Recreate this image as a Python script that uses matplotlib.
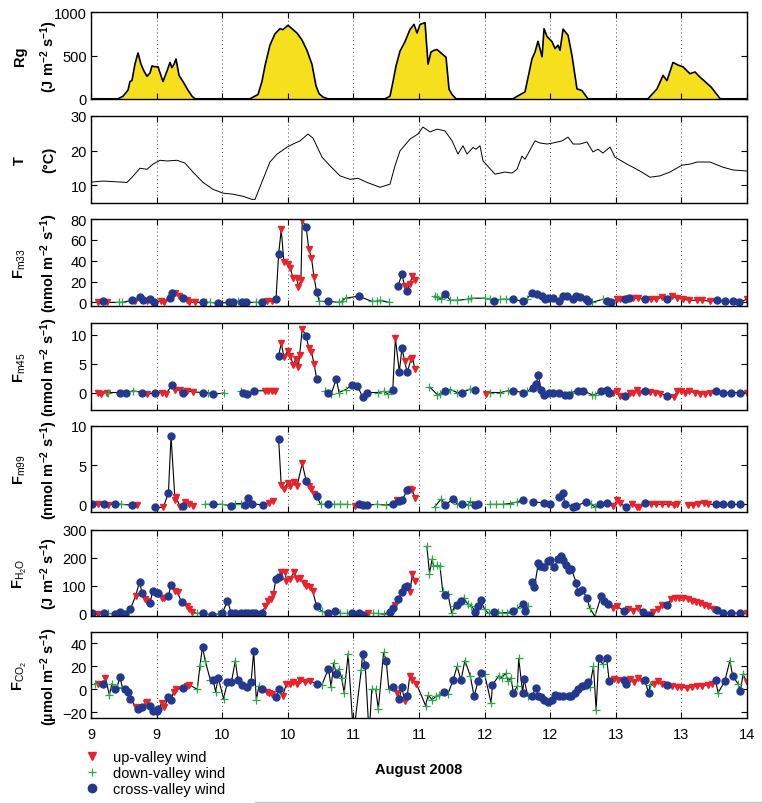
import numpy as np
import matplotlib
matplotlib.use('Agg')
import matplotlib.pyplot as plt
from matplotlib.lines import Line2D

plt.rcParams['font.family'] = ['Liberation Sans', 'DejaVu Sans']
plt.rcParams['mathtext.fontset'] = 'custom'
plt.rcParams['mathtext.rm'] = 'Liberation Sans'
plt.rcParams['mathtext.it'] = 'Liberation Sans:italic'
plt.rcParams['mathtext.bf'] = 'Liberation Sans:bold'

NA = np.nan

# ---------------- x axis (days of August 2008) ----------------
xticks = [9.0, 9.5, 10.0, 10.5, 11.0, 11.5, 12.0, 12.5, 13.0, 13.5, 14.0]
xtick_labels = ['9', '9', '10', '10', '11', '11', '12', '12', '13', '13', '14']

# ---------------- Rg ----------------
rg_t = [9.0,
        9.206, 9.244, 9.282, 9.297, 9.312, 9.335, 9.358, 9.381, 9.404, 9.427, 9.450, 9.465, 9.488,
        9.511, 9.526, 9.549, 9.579, 9.602, 9.617, 9.633, 9.648, 9.671, 9.701, 9.739, 9.770, 9.793,
        10.212, 10.273, 10.303, 10.326, 10.364, 10.402, 10.44, 10.463, 10.486, 10.502, 10.532, 10.570,
        10.608, 10.646, 10.684, 10.715, 10.738, 10.768, 10.806,
        11.241, 11.279, 11.302, 11.325, 11.355, 11.393, 11.431, 11.462, 11.485, 11.508, 11.546, 11.569,
        11.591, 11.614, 11.637, 11.675, 11.706, 11.729, 11.752, 11.782,
        12.216, 12.308, 12.361, 12.384, 12.407, 12.438, 12.453, 12.476, 12.514, 12.537, 12.56, 12.575,
        12.598, 12.636, 12.666, 12.704, 12.742, 12.788,
        13.245, 13.314, 13.36, 13.39, 13.436, 13.474, 13.512, 13.565, 13.604, 13.642, 13.727, 13.796, 14.0]
rg_v = [0,
        0, 30, 100, 200, 210, 400, 530, 400, 320, 260, 300, 380, 370,
        370, 300, 200, 320, 420, 360, 400, 460, 270, 200, 100, 30, 0,
        0, 50, 200, 380, 620, 750, 810, 800, 830, 850, 810, 760,
        680, 560, 400, 150, 60, 20, 0,
        0, 30, 200, 380, 550, 660, 800, 860, 760, 860, 880, 400,
        540, 560, 570, 520, 480, 110, 50, 0,
        0, 80, 460, 540, 665, 485, 810, 720, 660, 580, 620, 560,
        805, 735, 500, 115, 95, 0,
        0, 115, 270, 210, 420, 390, 370, 290, 310, 250, 135, 0, 0]

# ---------------- T ----------------
temp_t = [9.0, 9.091, 9.274, 9.313, 9.373, 9.427, 9.473, 9.526, 9.579, 9.655,
          9.716, 9.777, 9.854, 9.930, 10.006, 10.082, 10.159, 10.227, 10.250, 10.311,
          10.364, 10.418, 10.494, 10.540, 10.593, 10.654, 10.692, 10.761, 10.822, 10.898,
          10.974, 11.035, 11.104, 11.203, 11.279, 11.317, 11.355, 11.431, 11.492, 11.530,
          11.584, 11.637, 11.698, 11.752, 11.797, 11.835, 11.866, 11.912, 11.934, 11.965,
          11.988, 12.079, 12.155, 12.209, 12.247, 12.285, 12.308, 12.384, 12.422, 12.476,
          12.521, 12.590, 12.636, 12.674, 12.727, 12.780, 12.826, 12.864, 12.902, 12.956,
          12.994, 13.085, 13.184, 13.261, 13.337, 13.413, 13.505, 13.566, 13.619, 13.718,
          13.817, 13.893, 14.0]
temp_v = [10.9, 11.2, 10.8, 12.3, 14.9, 14.6, 16.1, 17.2, 17.0, 17.2,
          16.4, 13.8, 10.8, 8.8, 7.7, 7.4, 6.8, 5.9, 5.9, 11.7,
          16.7, 19.0, 21.0, 21.9, 22.8, 24.8, 23.6, 18.1, 15.6, 12.7,
          11.7, 12.0, 10.8, 9.4, 10.3, 15.6, 19.9, 23.3, 24.8, 26.8,
          25.4, 26.2, 25.7, 22.8, 19.0, 21.4, 19.0, 20.9, 20.4, 21.4,
          17.0, 13.2, 13.8, 13.5, 14.6, 18.4, 17.5, 22.8, 22.2, 21.9,
          22.2, 22.8, 23.9, 21.9, 21.9, 22.5, 19.6, 20.4, 19.3, 21.0,
          18.1, 16.1, 14.1, 12.3, 12.7, 13.8, 15.8, 16.1, 16.7, 16.7,
          15.2, 14.4, 14.1]

# wind codes: u = up-valley, d = down-valley, c = cross-valley, - = gap
# ---------------- F m33 ----------------
fm33_t = [9.05, 9.09, 9.12, 9.21, 9.24, 9.31, 9.335, 9.37, 9.40, 9.43,
          9.45, 9.48, 9.53, 9.56, 9.60, 9.62, 9.64, 9.67, 9.70, 9.73,
          9.75, 9.79, 9.85, 9.88, 9.91, 9.97, 10.05, 10.08, 10.12, 10.15,
          10.18, 10.26, 10.30, 10.34, 10.38, 10.41, 10.43, 10.45, 10.47, 10.50,
          10.52, 10.54, 10.57, 10.58, 10.60, 10.61, 10.64, 10.66, 10.68, 10.70,
          10.72, 10.74, 10.81, 10.89, 10.91, 10.94, 11.04, 11.14, 11.18, 11.20,
          11.27, 11.30, 11.34, 11.37, 11.39, 11.41, 11.43, 11.45, 11.47, 11.55,
          11.62, 11.64, 11.67, 11.70, 11.74, 11.79, 11.87, 11.90, 12.00, 12.04,
          12.07, 12.12, 12.16, 12.22, 12.29, 12.32, 12.36, 12.40, 12.44, 12.46,
          12.48, 12.52, 12.57, 12.60, 12.63, 12.67, 12.70, 12.73, 12.77, 12.79,
          12.82, 12.90, 12.93, 12.96, 13.01, 13.03, 13.07, 13.10, 13.13, 13.17,
          13.22, 13.27, 13.31, 13.35, 13.39, 13.43, 13.47, 13.51, 13.56, 13.62,
          13.66, 13.72, 13.77, 13.83, 13.89, 13.94, 14.00]
fm33_v = [0, 1, 0, 0, 0, 2, 1, 5, 2, 1,
          3, 0, 1, 0, 4, 9, 9, 6, 4, 2,
          0, 0, 0, 0, 0, -1, 0, 0, 1, 0,
          0, 0, 0, 1, 1, 3, 46, 70, 39, 37,
          33, 23, 23, 15, 21, 79, 72, 51, 43, 24,
          10, 1, 1, 0, 1, 4, 6, 1, 1, 2,
          0, NA, 16, 27, 16, 11, 18, 25, 21, NA,
          6, 5, 3, 8, 2, 2, 3, 4, 4, 3,
          1, 3, 3, 3, 1, 3, 9, 8, 6, 3,
          4, 4, 1, 6, 6, 3, 6, 5, 3, 1,
          0, 3, 1, 0, 3, 3, 3, 4, 4, 4,
          3, 3, 3, 5, 3, 6, 4, 3, 2, 2,
          2, 1, 2, 1, 1, 0, 3]
fm33_w = ("ucuddcuccu ccuuccuucu uucddcccdc cdcuuccuuu uuuuuucuuu cdcdddcddd "
          "d-ccucuuu- dddcdddddd cddccdcccc cccccccccc ddccuuccuu cuuucuuuuu uuccccu")

# ---------------- F m45 ----------------
fm45_t = [9.05, 9.08, 9.12, 9.13, 9.22, 9.27, 9.32, 9.39, 9.43, 9.49,
          9.54, 9.57, 9.62, 9.64, 9.68, 9.70, 9.73, 9.78, 9.85, 9.89,
          9.93, 10.01, 10.08, 10.14, 10.16, 10.19, 10.24, 10.33, 10.35, 10.38,
          10.40, 10.415, 10.43, 10.45, 10.47, 10.50, 10.52, 10.54, 10.56, 10.58,
          10.59, 10.61, 10.64, 10.66, 10.68, 10.70, 10.72, 10.75, 10.78, 10.81,
          10.83, 10.87, 10.89, 10.94, 10.99, 11.03, 11.07, 11.10, 11.19, 11.23,
          11.26, 11.30, 11.32, 11.35, 11.37, 11.39, 11.41, 11.44, 11.45, 11.47,
          11.52, 11.58, 11.64, 11.66, 11.70, 11.74, 11.79, 11.83, 11.89, 11.93,
          11.97, 12.01, 12.04, 12.12, 12.18, 12.22, 12.29, 12.32, 12.37, 12.39,
          12.41, 12.43, 12.45, 12.49, 12.52, 12.57, 12.61, 12.64, 12.66, 12.71,
          12.75, 12.82, 12.84, 12.89, 12.93, 12.95, 12.98, 13.01, 13.03, 13.07,
          13.11, 13.13, 13.16, 13.18, 13.22, 13.26, 13.30, 13.34, 13.39, 13.44,
          13.47, 13.50, 13.53, 13.56, 13.60, 13.64, 13.68, 13.72, 13.76, 13.82,
          13.88, 13.95, 14.00]
fm45_v = [0, -0.2, 0, 0, 0, 0, 0.3, 0, -0.3, 0,
          0, -0.2, 1.3, 0.4, 0.4, 0, 0.3, 0.1, 0, 0,
          -0.3, -0.1, NA, 0.2, 0, -0.3, 0.3, 0.3, 0.3, 0.3,
          0.3, NA, 6.3, 8.6, 6.2, 7.2, 6.4, 4.8, 5.8, 4.5,
          6.5, 11.0, 9.8, 7.7, 7.0, 5.0, 2.4, NA, 0.2, 0,
          -0.3, 2.4, 0, 0.5, 1.3, 1.2, -0.8, 0, 0, 0.2,
          -0.2, 0.5, 9.4, 3.6, 7.7, 5.5, 3.5, 5.8, 6.0, 4.0,
          NA, 1.0, -0.4, -0.2, 0.2, 0.5, 0, 0, 0.6, 0.4,
          NA, -0.3, 0, 0, 0.3, 0.3, 0, 0.2, 0.8, 1.4,
          3.0, 0.5, -0.4, 0, 0, 0, -0.4, -0.4, 0, 0.3,
          0.3, -0.4, -0.4, 0.3, 0.5, 0, 0, 0.2, -0.6, -0.6,
          0, 0, 0.4, 0, 0.3, 0.1, 0, -0.2, -0.6, -0.8,
          0.2, 0.2, 0, 0.2, 0, -0.2, -0.2, 0, 0.2, 0,
          0, 0, 0]
fm45_w = ("uuudccdcuc uucuucuucd cd-dcccuuu u-cuuuuuuu uucuuuc-dc dcddccccdd "
          "dcuccucuuu -dddcddcdc -udddccdcc ccccccccdc cddcccuuuc uuuucuuucu "
          "uuuuuuuucc ccu")

# ---------------- F m99 ----------------
fm99_t = [9.01, 9.05, 9.10, 9.13, 9.18, 9.23, 9.31, 9.35, 9.42, 9.49,
          9.55, 9.59, 9.61, 9.64, 9.65, 9.68, 9.70, 9.72, 9.75, 9.78,
          9.82, 9.87, 9.93, 10.00, 10.07, 10.10, 10.14, 10.17, 10.20, 10.23,
          10.31, 10.36, 10.39, 10.41, 10.43, 10.45, 10.47, 10.50, 10.52, 10.55,
          10.57, 10.61, 10.64, 10.66, 10.68, 10.70, 10.72, 10.75, 10.81, 10.85,
          10.90, 10.95, 10.98, 11.01, 11.04, 11.07, 11.10, 11.18, 11.25, 11.30,
          11.33, 11.35, 11.37, 11.41, 11.43, 11.45, 11.47, 11.55, 11.62, 11.67,
          11.70, 11.76, 11.79, 11.83, 11.87, 11.89, 11.93, 11.95, 12.00, 12.04,
          12.09, 12.14, 12.19, 12.25, 12.29, 12.33, 12.37, 12.45, 12.50, 12.53,
          12.57, 12.60, 12.61, 12.67, 12.70, 12.77, 12.81, 12.84, 12.88, 12.93,
          12.98, 13.01, 13.03, 13.08, 13.12, 13.16, 13.18, 13.22, 13.27, 13.31,
          13.35, 13.40, 13.44, 13.47, 13.51, 13.55, 13.59, 13.63, 13.67, 13.70,
          13.76, 13.82, 13.88, 13.95]
fm99_v = [0.1, 0, 0, -0.1, 0.1, 0, -0.1, -0.1, NA, -0.4,
          -0.4, 1.4, 8.7, 0.6, 0.9, -0.4, -0.2, 0.3, 0, -0.2,
          NA, 0, 0, 0, -0.2, 0.1, 0.1, -0.1, 0.8, 0.1,
          -0.1, 0.2, 0.4, NA, 8.3, 2.4, 2.0, 2.7, 2.3, 2.9,
          2.3, 5.2, 3.0, 2.3, 2.0, 1.3, 1.0, 0, 0, 0,
          0, 0, NA, -0.2, 0.1, -0.1, -0.1, 0, -0.1, 0.1,
          0.6, 0.4, 0.5, 1.8, 1.9, 1.8, 0.8, NA, -0.3, 0.7,
          -0.1, 0.7, 0, 0.1, -0.1, 0.4, -0.1, 0, NA, 0,
          0, 0, 0.1, 0.3, 0.6, NA, 0.3, 0.2, 0, NA,
          0.9, 1.4, 0.1, -0.3, -0.2, 0.3, 0, -0.3, 0, 0.2,
          -0.2, 0.5, 0.2, -0.4, 0, -0.3, -0.4, 0.2, 0, 0,
          0, 0, -0.1, 0, NA, -0.1, -0.1, 0.1, 0.2, 0,
          0, 0, 0, 0]
fm99_w = ("cucucdcu-c uccuuucuuu -dcdcddccc cuu-cuuuuu uucuuucdcd dd-ucccddc "
          "ucccuuu-dd ccdcddcc-d ddddc-ccc- ccccccddcc uuucuuucuu uuuu-uuuuu cccc")

# ---------------- F H2O ----------------
fh2o_t = [9.01, 9.05, 9.10, 9.13, 9.18, 9.22, 9.26, 9.30, 9.34, 9.37,
          9.39, 9.41, 9.43, 9.45, 9.47, 9.50, 9.51, 9.54, 9.56, 9.59,
          9.61, 9.64, 9.66, 9.69, 9.73, 9.75, 9.77, 9.81, 9.85, 9.88,
          9.92, 9.97, 10.00, 10.04, 10.07, 10.10, 10.14, 10.17, 10.20, 10.23,
          10.25, 10.30, 10.33, 10.35, 10.37, 10.39, 10.41, 10.43, 10.45, 10.48,
          10.49, 10.52, 10.55, 10.57, 10.59, 10.62, 10.64, 10.67, 10.69, 10.72,
          10.76, 10.81, 10.85, 10.86, 10.90, 10.95, 10.99, 11.04, 11.07, 11.11,
          11.15, 11.19, 11.23, 11.28, 11.30, 11.32, 11.34, 11.37, 11.39, 11.41,
          11.43, 11.45, 11.47, 11.52, 11.56, 11.58, 11.60, 11.61, 11.64, 11.66,
          11.68, 11.70, 11.72, 11.75, 11.77, 11.79, 11.82, 11.84, 11.87, 11.90,
          11.93, 11.95, 11.97, 12.00, 12.03, 12.07, 12.10, 12.13, 12.17, 12.22,
          12.25, 12.29, 12.31, 12.33, 12.345, 12.36, 12.38, 12.41, 12.42, 12.45,
          12.48, 12.50, 12.53, 12.56, 12.58, 12.60, 12.62, 12.64, 12.66, 12.70,
          12.71, 12.74, 12.78, 12.80, 12.84, 12.89, 12.91, 12.94, 12.98, 13.01,
          13.06, 13.09, 13.13, 13.17, 13.21, 13.25, 13.28, 13.32, 13.35, 13.39,
          13.42, 13.45, 13.48, 13.51, 13.55, 13.58, 13.61, 13.64, 13.67, 13.70,
          13.74, 13.77, 13.82, 13.88, 13.95, 14.00]
fh2o_v = [0, -3, 2, 0, -2, 6, -2, 15, 63, 113,
          72, 50, 45, 37, 80, 73, 72, 57, 55, 63,
          102, 80, 75, 40, 25, 15, 5, 0, 2, -2,
          -5, -2, 0, 45, 0, 0, 0, 0, 0, 0,
          0, 0, 27, 45, 53, 70, 124, 130, 148, 148,
          115, 125, 150, 125, 127, 110, 97, 95, 80, 25,
          8, 0, 3, 10, 0, 0, 0, 0, -5, 0,
          0, 0, -2, 5, 18, 30, 50, 75, 95, 100,
          78, 140, 115, NA, 240, 143, 195, 170, 172, 170,
          82, 66, 70, 0, 25, 30, 45, 55, 35, 28,
          5, 25, 48, 15, 0, 5, 5, 3, 3, 8,
          18, 33, 10, 25, NA, 112, 94, 182, 170, 165,
          189, 190, 165, 195, 204, 190, 175, 157, 160, 109,
          76, 85, 57, 20, -10, 63, 45, 35, 20, 25,
          10, 15, 10, 20, 5, -5, 5, 15, 30, 30,
          50, 55, 55, 55, 52, 45, 40, 38, 30, 25,
          15, 14, 2, 2, 0, 0]
fh2o_w = ("cucdccccuc cuuccccuuc cuucuuudcd cdcccccccc ccuuuuccuu uuuuuuuuuc "
          "dcdcddcccu dddccucccc uuu-dddddd dcdddccddd cccddcdddc dccd-ccccc "
          "cccccccccc cccddcccuu cuuuccuuuc uuuuuuuuuu uccccu")

# ---------------- F CO2 ----------------
fco2_t = [9.03, 9.05, 9.09, 9.11, 9.14, 9.16, 9.18, 9.20, 9.22, 9.24,
          9.26, 9.28, 9.30, 9.34, 9.36, 9.39, 9.42, 9.43, 9.45, 9.47,
          9.50, 9.51, 9.54, 9.56, 9.59, 9.61, 9.63, 9.65, 9.70, 9.73,
          9.75, 9.81, 9.83, 9.85, 9.87, 9.91, 9.93, 9.95, 9.97, 10.01,
          10.04, 10.07, 10.10, 10.12, 10.15, 10.19, 10.22, 10.24, 10.26, 10.28,
          10.30, 10.34, 10.36, 10.38, 10.41, 10.43, 10.46, 10.49, 10.52, 10.54,
          10.57, 10.59, 10.63, 10.67, 10.72, 10.76, 10.81, 10.83, 10.85, 10.87,
          10.89, 10.91, 10.93, 10.96, 11.00, 11.06, 11.07, 11.09, 11.12, 11.14,
          11.17, 11.19, 11.23, 11.25, 11.27, 11.30, 11.33, 11.35, 11.37, 11.39,
          11.41, 11.43, 11.45, 11.48, 11.55, 11.57, 11.60, 11.63, 11.65, 11.69,
          11.72, 11.76, 11.79, 11.82, 11.85, 11.89, 11.92, 11.95, 11.97, 12.00,
          12.05, 12.06, 12.11, 12.13, 12.16, 12.18, 12.20, 12.22, 12.25, 12.26,
          12.29, 12.30, 12.33, 12.36, 12.39, 12.41, 12.43, 12.45, 12.48, 12.51,
          12.54, 12.57, 12.60, 12.64, 12.66, 12.69, 12.71, 12.74, 12.77, 12.79,
          12.80, 12.83, 12.85, 12.87, 12.90, 12.93, 12.95, 12.99, 13.02, 13.06,
          13.08, 13.11, 13.14, 13.17, 13.20, 13.22, 13.25, 13.26, 13.29, 13.32,
          13.35, 13.39, 13.43, 13.47, 13.50, 13.54, 13.58, 13.62, 13.66, 13.70,
          13.73, 13.76, 13.78, 13.83, 13.87, 13.89, 13.93, 13.95, 13.97, 14.00]
fco2_v = [5, 5, 5, 10, -5, 5, 0, 2, 11, 1,
          0, -2, -8, -15, -17, -15, -12, -11, -14, -19,
          -19, -17, -12, -15, -7, -9, -2, 0, 1, 3,
          4, 0, 20, 37, 25, 8, 8, -2, 10, -8,
          6, 6, 25, 8, 4, 2, 6, 33, -9, 3,
          0, -2, -3, -4, -7, 0, -6, 5, 5, 6,
          5, 8, 6, 7, 5, 4, 18, 2, 23, 13,
          18, 10, -3, 31, -40, 17, 31, 21, -40, 0,
          0, -17, 32, 25, 0, 2, -3, -8, 2, -10,
          -6, 12, 8, 5, -14, -5, -9, -6, -5, -2,
          -4, 8, 20, 8, 25, 12, -6, 7, 14, 13,
          -12, 4, 12, 10, 14, 7, 10, -3, 3, 27,
          -3, 9, -6, -6, 1, -6, -7, -9, -11, -9,
          -5, -6, -6, -6, -6, -3, 0, 3, 4, 6,
          2, 20, -18, 27, 22, 27, 7, 9, 8, 8,
          5, 9, 6, 10, 7, 8, -3, 4, 5, 7,
          5, 4, 3, 2, 2, 1, 2, 3, 3, 4,
          5, 8, -3, 7, 25, 12, 5, -1, 13, 6]
fco2_w = ("ducuddcdcd cccuccuucc ccuuccuucu uddcddcdcd ccdcccccdd cuuuccuuuu "
          "uuuucdcddc ddddddccdd dddcdcuccu cuuudddddc dcdcddcccd dcdddddcdd "
          "ccdccccccc cccccccccc dddcdccuuc cuuuuccduu ucuuuuuuuu ucdcdcdcdu")

legend_labels = ['up-valley wind', 'down-valley wind', 'cross-valley wind']

# ---------------- styling ----------------
RED = '#E8232B'
GREEN = '#2BA84A'
BLUE = '#22398F'
YELLOW = '#F6E01E'

W, H = 762, 804
fig = plt.figure(figsize=(W / 100, H / 100), dpi=100)
left_px, right_px = 91, 747
tops = [13.3, 117, 220, 324.3, 426.7, 530.7, 632.7]
hpx = 86.5
axes = [fig.add_axes([left_px / W, 1 - (tp + hpx) / H, (right_px - left_px) / W, hpx / H])
        for tp in tops]

FS = 10.5


def style(ax, ylim, yticks, name, unit, bottom=False):
    ax.set_xlim(9, 14)
    ax.set_ylim(*ylim)
    ax.set_yticks(yticks)
    ax.set_xticks(xticks)
    if bottom:
        ax.set_xticklabels(xtick_labels)
    else:
        ax.set_xticklabels([])
    ax.tick_params(direction='in', length=4, width=0.8, top=True, right=True,
                   labelsize=FS, pad=3)
    ax.tick_params(axis='x', pad=6)
    for xt in xticks[1:-1]:
        ax.axvline(xt, color='#444444', lw=0.7, ls=(0, (1, 3)), zorder=0)
    for s in ax.spines.values():
        s.set_linewidth(1.0)
        s.set_zorder(5)
    ax.text(-0.108, 0.5, name, transform=ax.transAxes, rotation=90, ha='center',
            va='center', fontsize=FS, fontweight='bold')
    ax.text(-0.064, 0.5, unit, transform=ax.transAxes, rotation=90, ha='center',
            va='center', fontsize=FS, fontweight='bold')


def flux(ax, t, v, w):
    t = np.asarray(t, dtype=float)
    v = np.asarray(v, dtype=float)
    w = np.array(list(w.replace(' ', '')))
    ax.plot(t, v, color='k', lw=0.8, zorder=2)
    m = w == 'u'
    ax.plot(t[m], v[m], ls='none', marker='v', ms=5, color=RED, mec=RED, zorder=3)
    m = w == 'd'
    ax.plot(t[m], v[m], ls='none', marker='+', ms=5.5, mew=0.9, color=GREEN, zorder=3)
    m = w == 'c'
    ax.plot(t[m], v[m], ls='none', marker='o', ms=5, color=BLUE, mec=BLUE, zorder=4)


unit_flux = r'(nmol m$^{\mathbf{-2}}$ s$^{\mathbf{-1}}$)'

ax = axes[0]
ax.fill_between(rg_t, rg_v, 0, color=YELLOW, lw=0, zorder=1)
ax.plot(rg_t, rg_v, color='k', lw=1.2, zorder=2)
style(ax, (0, 1000), [0, 500, 1000], 'Rg', r'(J m$^{\mathbf{-2}}$ s$^{\mathbf{-1}}$)')

ax = axes[1]
ax.plot(temp_t, temp_v, color='k', lw=0.7)
style(ax, (5, 30), [10, 20, 30], 'T', '(°C)')

ax = axes[2]
flux(ax, fm33_t, fm33_v, fm33_w)
style(ax, (-3, 80), [0, 20, 40, 60, 80], r'F$_{\mathrm{m33}}$', unit_flux)

ax = axes[3]
flux(ax, fm45_t, fm45_v, fm45_w)
style(ax, (-3, 12), [0, 5, 10], r'F$_{\mathrm{m45}}$', unit_flux)

ax = axes[4]
flux(ax, fm99_t, fm99_v, fm99_w)
style(ax, (-1, 10), [0, 5, 10], r'F$_{\mathrm{m99}}$', unit_flux)

ax = axes[5]
flux(ax, fh2o_t, fh2o_v, fh2o_w)
style(ax, (-10, 300), [0, 100, 200, 300], r'F$_{\mathrm{H_2O}}$',
      r'(J m$^{\mathbf{-2}}$ s$^{\mathbf{-1}}$)')

ax = axes[6]
flux(ax, fco2_t, fco2_v, fco2_w)
style(ax, (-25, 50), [-20, 0, 20, 40], r'F$_{\mathrm{CO_2}}$',
      r'(µmol m$^{\mathbf{-2}}$ s$^{\mathbf{-1}}$)', bottom=True)

fig.text(419 / W, 1 - 770 / H, 'August 2008', ha='center', va='center',
         fontsize=FS, fontweight='bold')

handles = [Line2D([], [], ls='none', marker='v', ms=6, color=RED),
           Line2D([], [], ls='none', marker='+', ms=6, mew=0.9, color=GREEN),
           Line2D([], [], ls='none', marker='o', ms=6, color=BLUE)]
fig.legend(handles, legend_labels, loc='upper left', bbox_to_anchor=(79 / W, 1 - 745 / H),
           frameon=False, fontsize=FS, handlelength=1.0, handletextpad=0.9,
           labelspacing=0.15, borderpad=0.4, borderaxespad=0)

fig.add_artist(Line2D([255 / W, 1.0], [1 - 802.5 / H, 1 - 802.5 / H], color='#c8c8c8',
                      lw=1.0, transform=fig.transFigure))

fig.savefig('out.png', dpi=100)
